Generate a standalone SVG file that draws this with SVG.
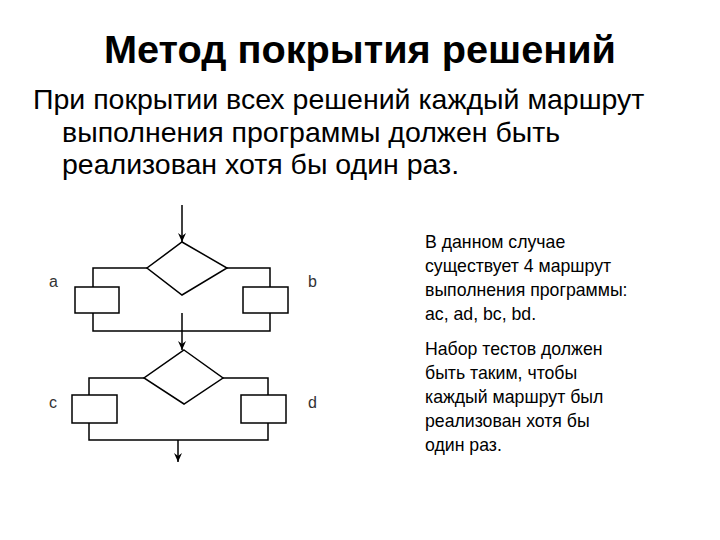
<svg xmlns="http://www.w3.org/2000/svg" width="720" height="540" viewBox="0 0 720 540">
<style>
.t{font-family:"Liberation Sans",Arial,sans-serif;fill:#000}
.ln{fill:none;stroke:#000;stroke-width:1.5}
.bx{fill:#fff;stroke:#000;stroke-width:1.5}
.lb{font-family:"Liberation Sans",Arial,sans-serif;font-size:16px;fill:#333}
</style>
<defs><marker id="ah" markerWidth="10" markerHeight="10" refX="9" refY="5" orient="auto" markerUnits="userSpaceOnUse"><path d="M0,1 L9,5 L0,9 L3,5 Z" fill="#000"/></marker></defs>
<rect width="720" height="540" fill="#fff"/>
<text class="t" x="360" y="63" font-size="38" font-weight="bold" text-anchor="middle" textLength="512" lengthAdjust="spacingAndGlyphs">Метод покрытия решений</text>
<text class="t" font-size="28.5"><tspan x="33" y="109">При покрытии всех решений каждый маршрут</tspan><tspan x="62" y="142">выполнения программы должен быть</tspan><tspan x="62" y="174">реализован хотя бы один раз.</tspan></text>
<text class="t" font-size="17.7"><tspan x="425" y="248">В данном случае</tspan><tspan x="425" y="272">существует 4 маршрут</tspan><tspan x="425" y="296">выполнения программы:</tspan><tspan x="425" y="320">ac, ad, bc, bd.</tspan><tspan x="425" y="355">Набор тестов должен</tspan><tspan x="425" y="379">быть таким, чтобы</tspan><tspan x="425" y="403">каждый маршрут был</tspan><tspan x="425" y="427">реализован хотя бы</tspan><tspan x="425" y="451">один раз.</tspan></text>
<g id="connectors">
<line class="ln" x1="182" y1="205" x2="182" y2="242" marker-end="url(#ah)"/>
<polyline class="ln" points="147,268 93,268 93,287"/>
<polyline class="ln" points="227,268 270,268 270,287"/>
<polyline class="ln" points="93,313 93,331 270,331 270,313"/>
<line class="ln" x1="182" y1="313" x2="182" y2="350" marker-end="url(#ah)"/>
<polyline class="ln" points="144,378 89,378 89,395"/>
<polyline class="ln" points="223,378 268,378 268,395"/>
<polyline class="ln" points="89,423 89,440 268,440 268,423"/>
<line class="ln" x1="178" y1="440" x2="178" y2="462" marker-end="url(#ah)"/>
</g>
<g id="d1"><polygon class="bx" points="182,242 227,268 182,295 147,268"/></g>
<g id="boxa"><rect class="bx" x="75" y="287" width="44" height="26"/></g>
<g id="boxb"><rect class="bx" x="243" y="287" width="45" height="26"/></g>
<g id="d2"><polygon class="bx" points="184,350 223,378 184,404 144,378"/></g>
<g id="boxc"><rect class="bx" x="72" y="395" width="45" height="28"/></g>
<g id="boxd"><rect class="bx" x="241" y="395" width="45" height="28"/></g>
<g id="labels">
<text class="lb" x="49" y="287">a</text><text class="lb" x="308" y="287">b</text>
<text class="lb" x="49" y="408">c</text><text class="lb" x="308" y="408">d</text>
</g>
</svg>
